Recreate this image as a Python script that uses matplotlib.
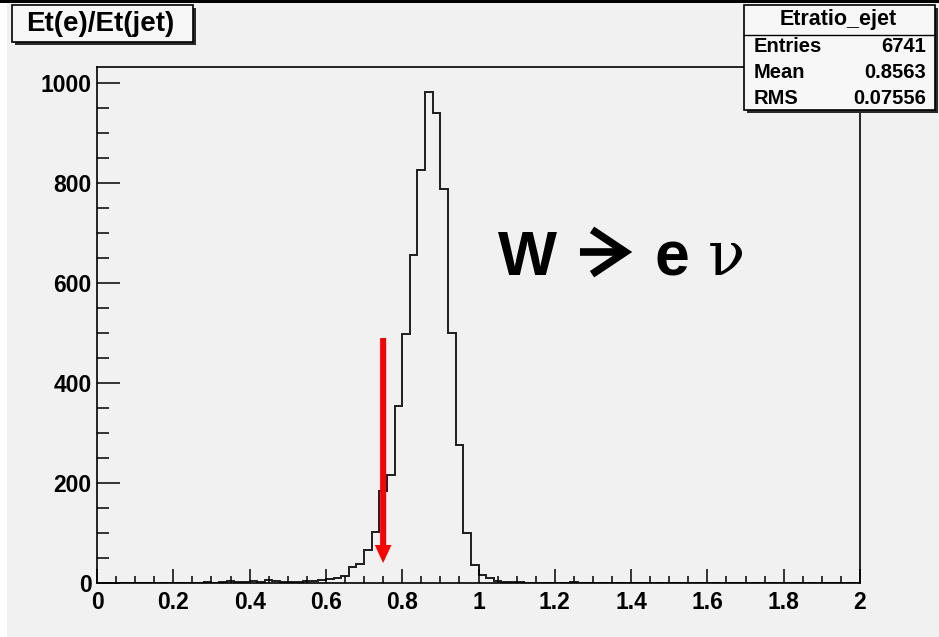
import numpy as np
import matplotlib
matplotlib.use("Agg")
import matplotlib.pyplot as plt
from matplotlib.patches import Rectangle
from matplotlib.ticker import MultipleLocator

# ---- histogram contents: Et(e)/Et(jet), 100 bins from 0 to 2 ----
bin_lo, bin_hi, n_bins = 0.0, 2.0, 100
counts = [
    0, 0, 0, 1, 0, 0, 1, 0, 1, 0,          # 0.00 - 0.18
    1, 0, 1, 1, 2, 1, 3, 4, 2, 3,          # 0.20 - 0.38
    4, 3, 7, 5, 3, 2, 3, 4, 5, 6,          # 0.40 - 0.58
    8, 11, 15, 33, 39, 67, 103, 185, 216, 354,      # 0.60 - 0.78
    498, 656, 827, 983, 941, 789, 501, 276, 101, 36,  # 0.80 - 0.98
    16, 10, 5, 3, 2, 2, 1, 1, 1, 0,        # 1.00 - 1.18
    1, 1, 3, 1, 0, 0, 0, 0, 0, 0,          # 1.20 - 1.38
    0, 0, 0, 0, 0, 0, 0, 0, 0, 0,
    0, 0, 0, 0, 0, 0, 0, 0, 0, 0,
    0, 0, 0, 0, 0, 0, 0, 0, 0, 0,
]

hist_name = "Etratio_ejet"
hist_title = "Et(e)/Et(jet)"
stat_names = ["Entries", "Mean", "RMS"]
stat_values = ["6741", "0.8563", "0.07556"]

cut_x = 0.75                 # red arrow marking the cut
cut_arrow_y = (490, 40)

W, H = 939, 637
BG = "#f1f1f1"
SANS = "Liberation Sans"


def fx(px):
    return px / W


def fy(py):
    return 1 - py / H


fig = plt.figure(figsize=(W / 100, H / 100), dpi=100, facecolor="white")

# grey canvas and the black top border
fig.add_artist(Rectangle((fx(7), 0), 1 - fx(7), 1, transform=fig.transFigure,
                         facecolor=BG, edgecolor="none", zorder=-10))
fig.add_artist(Rectangle((0, fy(3)), 1, fy(0) - fy(3), transform=fig.transFigure,
                         facecolor="black", edgecolor="none", zorder=-9))

ax = fig.add_axes([fx(97), fy(583), fx(860) - fx(97), fy(67) - fy(583)])
ax.set_facecolor(BG)

edges = np.linspace(bin_lo, bin_hi, n_bins + 1)
ax.stairs(counts, edges, color="#1e1e1e", lw=1.4, baseline=0)

ax.set_xlim(bin_lo, bin_hi)
ax.set_ylim(0, 1032)

ax.xaxis.set_minor_locator(MultipleLocator(0.05))
ax.yaxis.set_minor_locator(MultipleLocator(50))
ax.set_xticks(np.arange(0, 2.01, 0.2))
ax.set_xticklabels(["0", "0.2", "0.4", "0.6", "0.8", "1", "1.2", "1.4", "1.6", "1.8", "2"])
ax.set_yticks(np.arange(0, 1001, 200))
ax.set_yticklabels(["0", "200", "400", "600", "800", "1000"])

ax.tick_params(axis="both", which="both", direction="in", width=1.1, colors="black",
               top=False, right=False)
ax.tick_params(axis="x", which="major", length=10, pad=6)
ax.tick_params(axis="x", which="minor", length=5)
ax.tick_params(axis="y", which="major", length=16.5, pad=4)
ax.tick_params(axis="y", which="minor", length=8.3)
for lab in ax.get_xticklabels() + ax.get_yticklabels():
    lab.set_fontfamily(SANS)
    lab.set_fontweight("bold")
    lab.set_fontsize(16.5)
for sp in ax.spines.values():
    sp.set_linewidth(1.2)
    sp.set_color("black")

# cut arrow
ax.annotate("", xy=(cut_x, cut_arrow_y[1]), xytext=(cut_x, cut_arrow_y[0]),
            arrowprops=dict(arrowstyle="simple,head_length=13,head_width=12,tail_width=4.3",
                            mutation_scale=1, color="red", lw=0,
                            shrinkA=0, shrinkB=0))

# channel label: W -> e nu
ax.text(1.051, 616, "W", fontsize=45, fontweight="bold", family=SANS,
        ha="left", va="baseline")
ax.annotate("", xy=(1.403, 662), xytext=(1.266, 662),
            arrowprops=dict(arrowstyle="->,head_length=24,head_width=16",
                            mutation_scale=1, color="black", lw=5.5,
                            shrinkA=0, shrinkB=0, joinstyle="miter", capstyle="butt"))
ax.text(1.461, 616, "e", fontsize=45, fontweight="bold", family=SANS,
        ha="left", va="baseline")
ax.text(1.600, 616, "\u03bd", fontsize=44, family="DejaVu Serif",
        ha="left", va="baseline")


def box(x0, y0, x1, y1, z=5):
    # ROOT-style pave with a dark drop shadow
    fig.add_artist(Rectangle((fx(x0 + 3), fy(y1 + 3)), fx(x1) - fx(x0), fy(y0) - fy(y1),
                             transform=fig.transFigure, facecolor="#2a2a2a",
                             edgecolor="none", zorder=z))
    fig.add_artist(Rectangle((fx(x0), fy(y1)), fx(x1) - fx(x0), fy(y0) - fy(y1),
                             transform=fig.transFigure, facecolor="#f7f7f7",
                             edgecolor="black", lw=1.2, zorder=z + 1))


# title pave
box(12, 5, 193, 42)
fig.text(fx(100), fy(24), hist_title, fontsize=20, fontweight="bold", family=SANS,
         ha="center", va="center", zorder=10)

# stats pave
box(744, 5, 935, 110)
fig.add_artist(plt.Line2D([fx(744), fx(935)], [fy(35), fy(35)], transform=fig.transFigure,
                          color="black", lw=1.0, zorder=8))
fig.text(fx(838), fy(20), hist_name, fontsize=15.5, fontweight="bold", family=SANS,
         ha="center", va="center", zorder=10)
for i, (name, val) in enumerate(zip(stat_names, stat_values)):
    yy = fy(47 + 25.5 * i)
    fig.text(fx(754), yy, name, fontsize=14.5, fontweight="bold", family=SANS,
             ha="left", va="center", zorder=10)
    fig.text(fx(926), yy, val, fontsize=14.5, fontweight="bold", family=SANS,
             ha="right", va="center", zorder=10)

fig.savefig("out.png", dpi=100, facecolor=fig.get_facecolor())
